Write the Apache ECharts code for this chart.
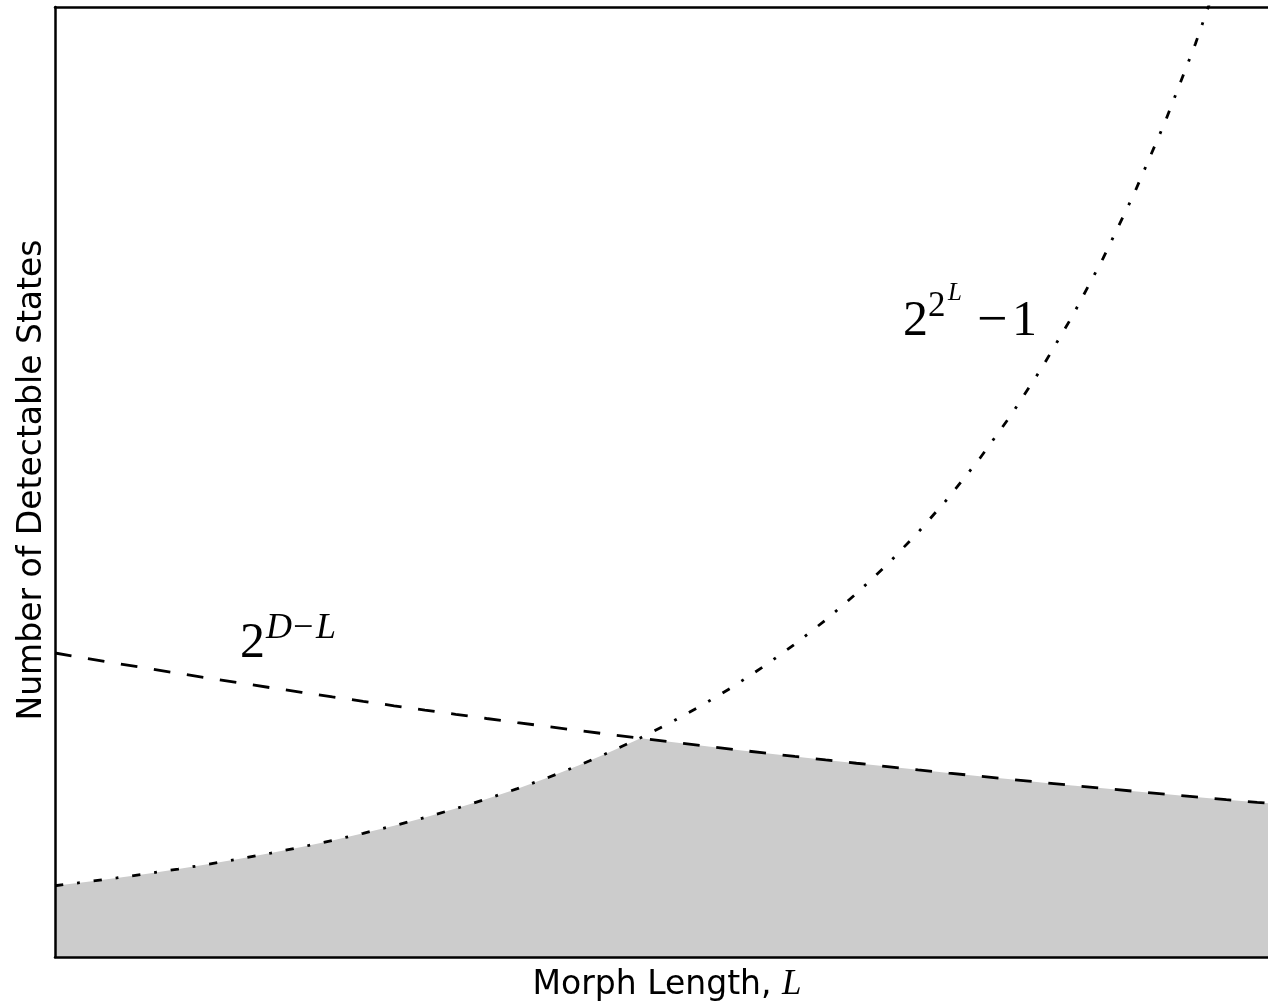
<!DOCTYPE html>
<html>
<head>
<meta charset="utf-8">
<title>Morph Length vs Detectable States</title>
<script src="https://cdn.jsdelivr.net/npm/echarts@6/dist/echarts.min.js"></script>
<style>
  html, body { margin: 0; padding: 0; background: #fff; overflow: hidden; }
  /* the plot frame runs a little past the right edge of the page */
  #chart { width: 1290px; height: 1006px; }
</style>
</head>
<body>
<div id="chart"></div>
<script>
// Morph length L (x axis)
const morphLength = [
  2.000, 2.025, 2.050, 2.075, 2.100, 2.125, 2.150, 2.175, 2.200, 2.225,
  2.250, 2.275, 2.300, 2.325, 2.350, 2.375, 2.400, 2.425, 2.450, 2.475,
  2.500, 2.525, 2.550, 2.575, 2.600, 2.625, 2.650, 2.675, 2.700, 2.725,
  2.750, 2.775, 2.800, 2.825, 2.850, 2.875, 2.900, 2.925, 2.950, 2.975,
  3.000
];

// States reachable by the morph itself: 2^(2^L) - 1
const morphStates = [
  15.00, 15.80, 16.64, 17.55, 18.52, 19.56, 20.68, 21.88, 23.16, 24.55,
  26.04, 27.64, 29.37, 31.24, 33.26, 35.44, 37.80, 40.36, 43.15, 46.17,
  49.46, 53.04, 56.93, 61.20, 65.86, 70.94, 76.53, 82.65, 89.39, 96.79,
  104.95, 113.95, 123.88, 134.87, 147.06, 160.6, 175.6, 192.3, 210.9, 231.7,
  255.0
];

// States distinguishable by the remaining detector bits: 2^(D - L)
const detectorStates = [
  64.00, 62.90, 61.82, 60.76, 59.71, 58.69, 57.68, 56.69, 55.72, 54.76,
  53.82, 52.89, 51.98, 51.09, 50.21, 49.35, 48.50, 47.67, 46.85, 46.05,
  45.25, 44.48, 43.71, 42.96, 42.22, 41.50, 40.79, 40.09, 39.40, 38.72,
  38.05, 37.40, 36.76, 36.13, 35.51, 34.90, 34.30, 33.71, 33.13, 32.56,
  32.00
];

const xRange = [2, 3];
const yRange = [0, 200];

const morphPairs = morphLength.map((l, i) => [l, morphStates[i]]);
const detectorPairs = morphLength.map((l, i) => [l, detectorStates[i]]);
// detectable region: bounded by the smaller of the two counts
const detectablePairs = morphLength.map((l, i) => [l, Math.min(morphStates[i], detectorStates[i])]);

const chart = echarts.init(document.getElementById('chart'), null, { renderer: 'canvas' });

const frameLine = { show: true, onZero: false, lineStyle: { color: '#000', width: 2.5 } };
const hiddenAxisParts = {
  axisTick: { show: false },
  axisLabel: { show: false },
  splitLine: { show: false }
};

const serifMath = '"Liberation Serif", "DejaVu Serif", serif';
const sans = '"DejaVu Sans", sans-serif';

function mathText(x, y, text, font) {
  return {
    type: 'text', x: x, y: y, silent: true,
    style: { text: text, font: font, fill: '#000', textAlign: 'left', textVerticalAlign: 'middle' }
  };
}

chart.setOption({
  animation: false,
  backgroundColor: '#fff',
  grid: { left: 55, top: 7, right: 2, bottom: 49, containLabel: false },
  xAxis: [
    Object.assign({ type: 'value', min: xRange[0], max: xRange[1], position: 'bottom', z: 10, axisLine: frameLine }, hiddenAxisParts),
    Object.assign({ type: 'value', min: xRange[0], max: xRange[1], position: 'top', z: 10, axisLine: frameLine }, hiddenAxisParts)
  ],
  yAxis: [
    Object.assign({ type: 'value', min: yRange[0], max: yRange[1], position: 'left', z: 10, axisLine: frameLine }, hiddenAxisParts),
    Object.assign({ type: 'value', min: yRange[0], max: yRange[1], position: 'right', z: 10, axisLine: frameLine }, hiddenAxisParts)
  ],
  series: [
    {
      name: 'detectable',
      type: 'line',
      data: detectablePairs,
      showSymbol: false,
      silent: true,
      z: 1,
      lineStyle: { width: 0, opacity: 0 },
      areaStyle: { color: '#cccccc', opacity: 1 }
    },
    {
      name: '2^(D-L)',
      type: 'line',
      data: detectorPairs,
      showSymbol: false,
      silent: true,
      z: 3,
      lineStyle: { color: '#000', width: 2.8, type: [16.7, 16.7], cap: 'butt' }
    },
    {
      name: '2^(2^L)-1',
      type: 'line',
      data: morphPairs,
      showSymbol: false,
      silent: true,
      clip: true,
      z: 3,
      lineStyle: { color: '#000', width: 2.8, type: [8.3, 13.9, 2.8, 13.9], cap: 'butt' }
    }
  ],
  graphic: [
    // x axis title
    {
      type: 'text', x: 667, y: 985, silent: true,
      style: {
        text: '{a|Morph Length, }{b|L}',
        textAlign: 'center', textVerticalAlign: 'middle',
        rich: {
          a: { font: '33px ' + sans, fill: '#000' },
          b: { font: 'italic 35px ' + serifMath, fill: '#000' }
        }
      }
    },
    // y axis title
    {
      type: 'text', x: 32, y: 480, rotation: Math.PI / 2, silent: true,
      style: {
        text: 'Number of Detectable States',
        font: '33px ' + sans, fill: '#000',
        textAlign: 'center', textVerticalAlign: 'middle'
      }
    },
    // 2^(D-L)
    mathText(240, 644, '2', '50px ' + serifMath),
    mathText(266, 629, 'D', 'italic 36px ' + serifMath),
    mathText(293, 629, '\u2212', '36px ' + serifMath),
    mathText(316, 629, 'L', 'italic 36px ' + serifMath),
    // 2^(2^L) - 1
    mathText(903, 322, '2', '50px ' + serifMath),
    mathText(928, 307, '2', '35px ' + serifMath),
    mathText(948, 293, 'L', 'italic 25px ' + serifMath),
    mathText(977, 322, '\u2212', '54px ' + serifMath),
    mathText(1012, 322, '1', '50px ' + serifMath)
  ]
});
</script>
</body>
</html>
